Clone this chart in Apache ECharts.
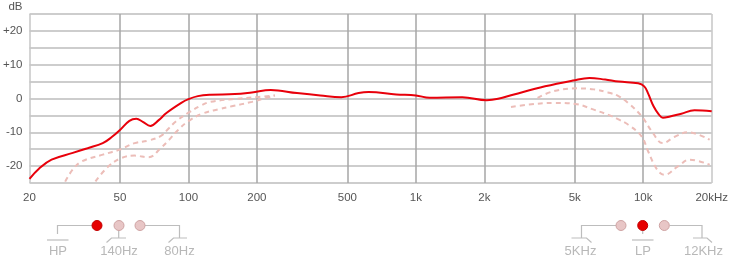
<!DOCTYPE html>
<html>
<head>
<meta charset="utf-8">
<script src="https://cdn.jsdelivr.net/npm/echarts@6/dist/echarts.min.js"></script>
<style>
html,body{margin:0;padding:0;background:#fff;}
#chart{width:731px;height:261px;}
</style>
</head>
<body>
<div id="chart"></div>
<script>
// Tick positions and labels (Hz)
const tickFreqs = [20, 50, 100, 200, 500, 1000, 2000, 5000, 10000, 20000];
const tickLabels = ['20', '50', '100', '200', '500', '1k', '2k', '5k', '10k', '20kHz'];

// Main response (red)
const mainFreq = [20, 22, 25, 31, 36, 42, 46, 50, 55, 59, 63, 68, 74, 80, 93, 100, 110, 125, 160, 190, 230, 300, 380, 470, 560, 620, 820, 1000, 1150, 1600, 2050, 2300, 2700, 3700, 4900, 5800, 6800, 7800, 9500, 10100, 10500, 11100, 11700, 12200, 13000, 14700, 16800, 20000];
const mainDb   = [-23.8, -20.8, -18.1, -16.1, -14.7, -13.2, -11.4, -9.3, -6.6, -6.0, -6.9, -8.1, -6.4, -4.3, -1.3, -0.2, 0.7, 1.1, 1.3, 1.8, 2.5, 1.6, 0.9, 0.4, 1.6, 1.9, 1.2, 0.9, 0.2, 0.4, -0.5, -0.1, 1.2, 3.6, 5.3, 6.1, 5.6, 5.0, 4.5, 3.6, 1.5, -2.3, -4.7, -5.7, -5.4, -4.5, -3.5, -3.8];

// High-pass alternatives (dashed, low end)
const hp140Freq = [28.7, 31, 34, 42, 50, 58, 67, 76, 82, 88, 100, 114, 125, 155, 200, 240];
const hp140Db   = [-24.6, -21, -18.6, -16.6, -15.1, -13.2, -12.4, -11.0, -8.8, -6.8, -4.2, -2.0, -1.0, -0.2, 0.4, 0.9];
const hp80Freq  = [39, 44.6, 50.8, 58, 66.6, 76, 82, 90, 100, 114, 135, 155, 190, 215, 240];
const hp80Db    = [-24.5, -20, -17.6, -16.9, -17.4, -14.5, -12.3, -9.3, -6.7, -4.6, -3.2, -2.3, -1.0, 0.0, 0.9];

// Low-pass alternatives (dashed, high end)
const lp12kFreq = [3430, 4050, 5120, 6060, 7000, 7780, 8570, 9830, 10900, 12200, 13700, 15700, 19600];
const lp12kDb   = [0.2, 2.2, 3.0, 2.7, 1.8, 0.7, -1.3, -5.2, -9.7, -13.2, -11.4, -10.0, -12.2];
const lp5kFreq  = [2620, 3150, 4050, 5020, 6060, 7260, 7780, 8570, 9830, 10500, 11500, 12400, 14200, 16000, 19600];
const lp5kDb    = [-2.5, -1.8, -1.3, -1.6, -3.3, -5.2, -6.2, -7.7, -11.2, -15.6, -21.0, -22.6, -20.1, -18.1, -19.6];

// Selector labels
const hpLabels = ['HP', '140Hz', '80Hz'];
const lpLabels = ['5KHz', 'LP', '12KHz'];

function pairs(f, d) { return f.map((v, i) => [v, d[i]]); }

const chart = echarts.init(document.getElementById('chart'), null, { renderer: 'canvas' });

const vColors = tickFreqs.map((f, i) => (i === 0 || i === tickFreqs.length - 1) ? '#c6c6c6' : '#a6a6a6');
const lineGray = '#bdbdbd';
const pinkFill = '#e8c6c6', pinkStroke = '#cfa3a3';
const redFill = '#e60000', redStroke = '#c40000';
const txt = { fontFamily: 'Liberation Sans', fontSize: 13, fill: '#b8b8b8', align: 'center', verticalAlign: 'middle' };

function dot(x, y, red) {
  return { type: 'circle', shape: { cx: x, cy: y, r: 5 }, style: { fill: red ? redFill : pinkFill, stroke: red ? redStroke : pinkStroke, lineWidth: 1 }, silent: true };
}
function pl(points) {
  return { type: 'polyline', shape: { points: points }, style: { stroke: lineGray, lineWidth: 1.2, fill: null }, silent: true };
}
function label(x, y, t) {
  return { type: 'text', x: x, y: y, style: Object.assign({ text: t }, txt), silent: true };
}

const option = {
  animation: false,
  backgroundColor: '#ffffff',
  grid: { left: 27, right: 19, top: 14, bottom: 78, containLabel: false },
  xAxis: {
    type: 'log',
    logBase: 10,
    min: 20,
    max: 20000,
    axisLine: { show: false },
    axisTick: { show: false, customValues: tickFreqs },
    axisLabel: {
      customValues: tickFreqs,
      margin: 9,
      color: '#555',
      fontFamily: 'Liberation Sans',
      fontSize: 11.5,
      showMinLabel: true,
      showMaxLabel: true,
      formatter: function (v) {
        for (let i = 0; i < tickFreqs.length; i++) {
          if (Math.abs(v - tickFreqs[i]) / tickFreqs[i] < 1e-6) return tickLabels[i];
        }
        return '';
      }
    },
    splitLine: { show: true, lineStyle: { color: vColors, width: 1.5 } }
  },
  yAxis: {
    type: 'value',
    min: -25,
    max: 25,
    interval: 5,
    name: 'dB',
    nameLocation: 'end',
    nameGap: 7,
    nameTextStyle: { color: '#555', fontFamily: 'Liberation Sans', fontSize: 11.5, align: 'right', verticalAlign: 'middle', padding: [0, 7, 0, 0] },
    axisLine: { show: false },
    axisTick: { show: false },
    axisLabel: {
      margin: 7,
      color: '#555',
      fontFamily: 'Liberation Sans',
      fontSize: 11.5,
      formatter: function (v) {
        if (v === 0) return '0';
        if (v % 10 !== 0) return '';
        return v > 0 ? '+' + v : String(v);
      }
    },
    splitLine: { show: true, lineStyle: { color: '#cdcdcd', width: 2 } }
  },
  series: [
    { type: 'line', data: pairs(hp140Freq, hp140Db), smooth: 0.4, showSymbol: false, lineStyle: { color: '#ecbdb8', width: 2, type: [5, 4] }, z: 2 },
    { type: 'line', data: pairs(hp80Freq, hp80Db), smooth: 0.4, showSymbol: false, lineStyle: { color: '#ecbdb8', width: 2, type: [5, 4] }, z: 2 },
    { type: 'line', data: pairs(lp12kFreq, lp12kDb), smooth: 0.4, showSymbol: false, lineStyle: { color: '#ecbdb8', width: 2, type: [5, 4] }, z: 2 },
    { type: 'line', data: pairs(lp5kFreq, lp5kDb), smooth: 0.4, showSymbol: false, lineStyle: { color: '#ecbdb8', width: 2, type: [5, 4] }, z: 2 },
    { type: 'line', data: pairs(mainFreq, mainDb), smooth: 0.4, showSymbol: false, lineStyle: { color: '#e8000b', width: 2 }, z: 3 }
  ],
  graphic: [
    // HP selector
    pl([[92, 225.5], [57.5, 225.5], [57.5, 234]]),
    pl([[47, 240], [68.5, 240]]),
    pl([[118.7, 230], [118.7, 238]]),
    pl([[106.5, 242.5], [111.5, 238], [126, 238]]),
    pl([[145, 225.5], [179.5, 225.5], [179.5, 238]]),
    pl([[168.5, 242.5], [173.5, 238], [187, 238]]),
    dot(97, 225.5, true), dot(119, 225.5, false), dot(140, 225.5, false),
    label(58, 251.5, hpLabels[0]), label(119, 251.5, hpLabels[1]), label(179.5, 251.5, hpLabels[2]),
    // LP selector
    pl([[616, 225.5], [581.5, 225.5], [581.5, 238]]),
    pl([[571.5, 238], [586.5, 238], [591.5, 242.5]]),
    pl([[642.7, 230], [642.7, 234]]),
    pl([[632, 240], [653.5, 240]]),
    pl([[669.5, 225.5], [702, 225.5], [702, 238]]),
    pl([[693, 238], [707, 238], [712, 242.5]]),
    dot(621, 225.5, false), dot(642.7, 225.5, true), dot(664.3, 225.5, false),
    label(580.5, 251.5, lpLabels[0]), label(643, 251.5, lpLabels[1]), label(703.5, 251.5, lpLabels[2])
  ]
};
chart.setOption(option);
</script>
</body>
</html>
